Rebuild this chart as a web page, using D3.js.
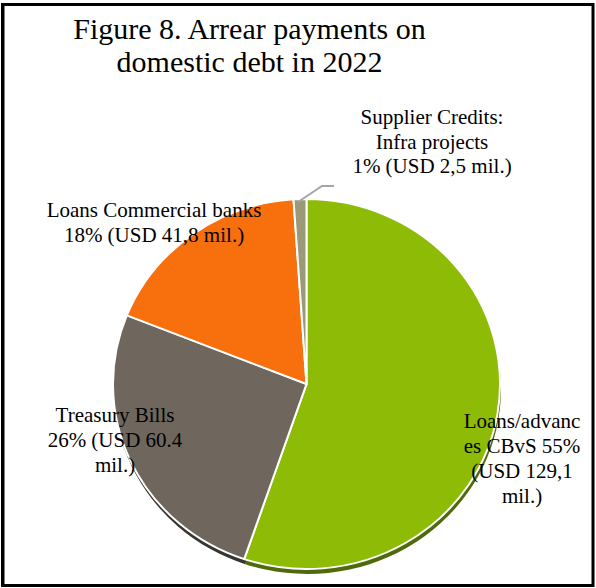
<!DOCTYPE html>
<html>
<head>
<meta charset="utf-8">
<script src="https://cdn.jsdelivr.net/npm/d3@7"></script>
<style>
  html, body { margin: 0; padding: 0; background: #fff; }
  svg { display: block; }
  text { font-family: "Liberation Serif", "Times New Roman", serif; fill: #000; }
</style>
</head>
<body>
<svg id="chart" width="596" height="588"></svg>
<script>
const categories = ["Loans/advances CBvS", "Treasury Bills", "Loans Commercial banks", "Supplier Credits: Infra projects"];
const values = [129.1, 60.4, 41.8, 2.5];
const colors = ["#8dbb06", "#6f675d", "#f86f0e", "#9a9a78"];
const shadowColors = ["#4f6a0a", "#38342f", "#8a3c06", "#55553f"];
const labelLines = [
  ["Loans/advanc", "es CBvS 55%", "(USD 129,1", "mil.)"],
  ["Treasury Bills", "26% (USD 60.4", "mil.)"],
  ["Loans Commercial banks", "18% (USD 41,8 mil.)"],
  ["Supplier Credits:", "Infra projects", "1% (USD 2,5 mil.)"]
];
const titleLines = ["Figure 8. Arrear payments on", "domestic debt in 2022"];

const svg = d3.select("#chart");

// frame
svg.append("rect").attr("x", 3).attr("y", 4.5).attr("width", 590).attr("height", 581)
  .attr("fill", "none").attr("stroke", "#000").attr("stroke-width", 3);
svg.append("line").attr("x1", 2.5).attr("x2", 2.5).attr("y1", 3).attr("y2", 587)
  .attr("stroke", "#000").attr("stroke-width", 3);

// title
const title = svg.append("text").attr("text-anchor", "middle").style("font-size", "30px");
title.selectAll("tspan").data(titleLines).join("tspan")
  .attr("x", 249.5).attr("y", (d, i) => 39 + i * 33).text(d => d);

const cx = 306.5, cy = 384, rx = 193.5, ry = 185;
const pie = d3.pie().sort(null).value(d => d)(values);
const arc = d3.arc().innerRadius(0).outerRadius(rx);

// shadow
const sh = svg.append("g").attr("transform", `translate(${cx + 1},${cy + 5}) scale(1,${ry / rx})`);
sh.selectAll("path").data(pie).join("path")
  .attr("d", arc).attr("fill", (d, i) => shadowColors[i]);

const g = svg.append("g").attr("transform", `translate(${cx},${cy}) scale(1,${ry / rx})`);
g.selectAll("path").data(pie).join("path")
  .attr("d", arc).attr("fill", (d, i) => colors[i])
  .attr("stroke", "#fff").attr("stroke-width", 2);

// leader line for supplier credits
svg.append("polyline").attr("points", "298,202 322,186 334,186")
  .attr("fill", "none").attr("stroke", "#a6a6a6").attr("stroke-width", 2);

// labels
const labelPos = [
  {x: 522, y: 428, dy: 25},
  {x: 115, y: 422, dy: 25},
  {x: 154, y: 217, dy: 24.5},
  {x: 432, y: 124, dy: 24.5}
];
labelLines.forEach((lines, i) => {
  const t = svg.append("text").attr("text-anchor", "middle").style("font-size", "21px");
  t.selectAll("tspan").data(lines).join("tspan")
    .attr("x", labelPos[i].x).attr("y", (d, j) => labelPos[i].y + j * labelPos[i].dy).text(d => d);
});
</script>
</body>
</html>
